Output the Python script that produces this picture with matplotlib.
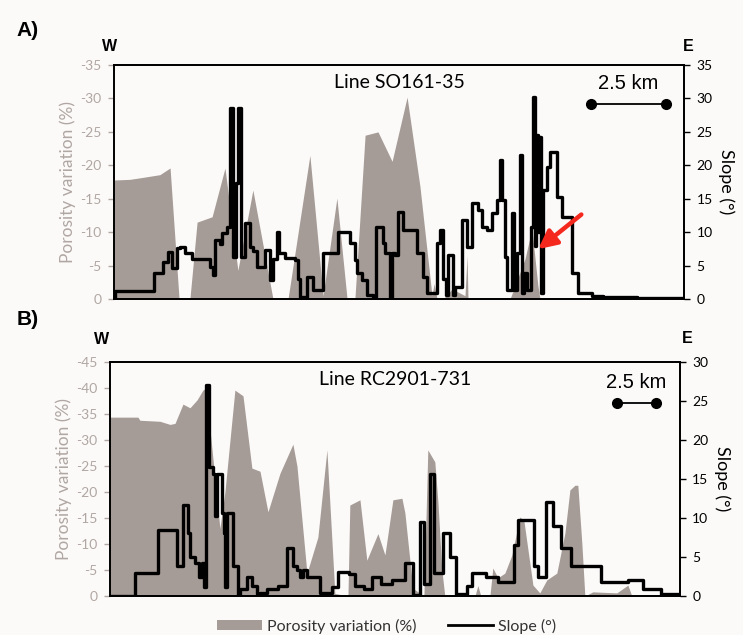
import matplotlib.pyplot as plt
from matplotlib.patches import Patch
from matplotlib.lines import Line2D

plt.rcParams['font.family'] = ['Lato', 'DejaVu Sans']
plt.rcParams['axes.unicode_minus'] = False

# --- Panel A: Line SO161-35 (distance in km) ---
a_por_km = [0, 0.53, 0.97, 1.53, 1.87, 2.17, 2.53, 2.77, 3.27, 3.70, 4.13, 4.63, 5.30, 5.80,
            6.53, 6.97, 7.43, 7.77, 8.03, 8.37, 8.80, 9.27, 9.77, 10.20, 10.60, 10.67, 10.77,
            10.97, 11.27, 11.70, 11.77, 11.80, 13.20, 13.70, 13.93, 14.13, 14.20, 19.0]
a_por = [-17.8, -17.9, -18.2, -18.6, -19.6, 0, 0, -11.5, -12.3, -19.6, -4.3, -16.3, 0, 0,
         -21.5, -0.5, -15.1, 0, 0, -24.5, -25.0, -20.6, -30.2, -16.8, -0.5, -2.3, 0,
         0, -1.5, -0.5, -6.5, 0, 0, -6.0, -10.5, -2.0, 0, 0]

a_slope_km = [0.00, 0.03, 1.33, 1.63, 1.80, 1.93, 2.10, 2.20, 2.37, 2.60, 3.20, 3.30, 3.37, 3.53,
              3.60, 3.77, 3.87, 3.97, 4.07, 4.13, 4.23, 4.37, 4.53, 4.63, 4.77, 5.03, 5.20, 5.30,
              5.43, 5.50, 5.70, 6.03, 6.13, 6.20, 6.43, 6.63, 6.97, 7.47, 7.87, 8.03, 8.10, 8.27,
              8.43, 8.63, 8.73, 8.97, 9.03, 9.20, 9.27, 9.37, 9.47, 9.63, 10.10, 10.30, 10.43,
              10.77, 10.87, 10.97, 11.07, 11.13, 11.30, 11.37, 11.60, 11.77, 11.93, 12.13, 12.27,
              12.43, 12.60, 12.77, 12.87, 12.93, 13.03, 13.10, 13.27, 13.33, 13.43, 13.53, 13.60,
              13.67, 13.77, 13.90, 13.97, 14.03, 14.07, 14.13, 14.17, 14.23, 14.30, 14.43, 14.53,
              14.77, 14.93, 15.27, 15.47, 15.93, 16.30, 17.43, 19.00]
a_slope = [0.0, 1.2, 3.9, 5.5, 7.0, 4.6, 7.6, 7.8, 6.9, 6.0, 4.8, 3.6, 8.8, 8.2,
           9.9, 10.8, 28.5, 6.3, 17.3, 28.5, 6.3, 11.3, 7.8, 7.2, 4.8, 7.3, 2.8, 6.0,
           10.0, 6.9, 6.1, 5.8, 3.0, 0.3, 3.3, 1.3, 6.9, 10.0, 8.4, 5.8, 3.9, 2.9,
           0.6, 0.3, 10.8, 8.4, 6.9, 0.0, 6.9, 6.6, 13.0, 10.3, 6.9, 3.3, 0.9,
           8.4, 10.3, 3.0, 0.6, 6.6, 0.6, 1.8, 11.8, 7.8, 14.3, 13.3, 10.8,
           10.3, 12.8, 14.8, 20.8, 14.8, 6.3, 1.3, 12.8, 1.3, 6.9, 21.5, 0.9,
           3.9, 1.3, 10.8, 30.2, 8.0, 24.5, 10.0, 24.2, 0.9, 16.3, 19.7, 22.0,
           15.2, 12.3, 3.9, 0.9, 0.5, 0.3, 0.2, 0.1]

# --- Panel B: Line RC2901-731 ---
b_por_km = [0, 1.79, 1.92, 3.21, 3.85, 4.17, 4.68, 5.13, 5.58, 5.96, 6.15, 7.05, 7.37, 8.01,
            8.53, 9.10, 9.62, 10.13, 10.90, 11.73, 11.99, 12.63, 13.33, 13.91, 14.42, 15.26,
            15.38, 16.03, 16.47, 17.18, 17.63, 18.14, 18.72, 18.91, 19.42, 20.13, 20.38, 20.83,
            21.03, 21.28, 21.47, 23.40, 23.59, 23.78, 24.36, 24.55, 24.87, 25.32, 25.77, 26.28,
            26.54, 27.12, 27.56, 28.01, 28.65, 29.17, 29.49, 29.81, 30.00, 30.26, 30.45, 30.96,
            32.50, 33.21, 33.46, 36.54]
b_por = [-34.4, -34.4, -33.8, -33.6, -33.0, -33.2, -36.9, -36.2, -37.7, -39.6, -40.0, -13.0, -20.0, -39.6,
         -38.5, -24.6, -24.0, -16.2, -23.6, -29.2, -25.0, -4.4, -11.3, -28.1, -0.5, 0,
         -17.5, -18.5, -6.9, -12.0, -7.9, -18.5, -18.8, -16.0, -1.5, 0, -28.1, -25.8,
         -18.0, -5.0, 0, 0, -2.0, 0, 0, -5.4, -3.5, -4.4, -7.9, -15.2,
         -14.5, -2.1, -0.6, -3.1, -4.4, -12.1, -20.4, -21.3, -21.3, -10.0, 0, -0.8,
         -0.6, -2.1, 0, 0]

b_slope_km = [0, 1.60, 3.08, 4.29, 4.68, 5.00, 5.13, 5.45, 5.71, 5.90, 6.03, 6.15, 6.35, 6.60,
              6.73, 6.86, 7.18, 7.31, 7.37, 7.50, 7.88, 8.21, 8.33, 8.78, 9.10, 9.42, 9.62,
              10.06, 10.77, 11.35, 11.73, 11.99, 12.18, 12.37, 12.63, 13.46, 14.23, 14.62, 15.32,
              15.71, 16.28, 16.79, 17.37, 18.08, 18.91, 19.42, 19.87, 20.13, 20.51, 20.77, 21.35,
              21.79, 22.18, 22.88, 23.21, 24.10, 24.87, 25.90, 26.15, 27.18, 27.44, 27.95, 28.40,
              28.91, 29.55, 31.47, 33.21, 34.17, 35.32, 36.54]
b_slope = [0, 2.9, 8.5, 3.8, 11.7, 8.1, 5.0, 4.2, 2.5, 4.2, 1.2, 27.0, 16.6, 15.7,
           10.2, 15.7, 10.6, 8.1, 1.2, 10.6, 3.8, 0.0, 0.9, 2.4, 1.3, 0.2, 0.4,
           0.9, 1.3, 6.1, 3.8, 3.3, 2.5, 3.3, 2.4, 0.4, 1.1, 3.1, 2.8,
           1.3, 0.9, 2.4, 1.5, 2.1, 4.2, 0.1, 9.5, 1.5, 15.7, 3.0, 8.1,
           5.0, 0.2, 1.3, 2.9, 2.4, 1.8, 6.6, 9.7, 3.9, 2.4, 12.1, 9.0,
           6.1, 3.9, 1.8, 2.1, 0.9, 0.3, 0.3]

bg = '#fcfaf9'
fill_c = '#a69c97'
gray_txt = '#b0a7a3'

fig = plt.figure(figsize=(7.43, 6.35), dpi=100, facecolor=bg)


def panel(rect, por_km, por, slope_km, slope, por_max, slope_max, xmax, title, bar_km, bar_y, txt_y):
    ax = fig.add_axes(rect, facecolor=bg)
    ax.fill_between(por_km, por, 0, color=fill_c, lw=0)
    ax.set_xlim(0, xmax)
    ax.set_ylim(0, por_max)
    ax.set_yticks(range(0, por_max - 1, -5))
    ax.set_xticks([])
    ax.tick_params(axis='y', colors=gray_txt, labelsize=10, length=4, width=1, pad=5)
    ax.set_ylabel('Porosity variation (%)', color=gray_txt, fontsize=12.5, labelpad=3)
    for s in ax.spines.values():
        s.set_color('black')
        s.set_linewidth(1.3)
    ax.spines['left'].set_color('#222222')

    ax2 = ax.twinx()
    ax2.plot(slope_km, slope, color='black', lw=2.4, drawstyle='steps-post')
    ax2.set_ylim(0, slope_max)
    ax2.set_yticks(range(0, slope_max + 1, 5))
    ax2.tick_params(axis='y', colors='black', labelsize=10, length=4, width=1, pad=5)
    ax2.set_ylabel('Slope (°)', fontsize=13, rotation=270, labelpad=16)
    for s in ax2.spines.values():
        s.set_linewidth(1.3)

    ax2.text(0.5, 0.96, title, transform=ax2.transAxes, ha='center', va='top', fontsize=14)
    # scale bar
    ax2.plot(bar_km, [bar_y, bar_y], color='black', lw=1.3, marker='o', ms=7)
    ax2.text(sum(bar_km) / 2, txt_y, '2.5 km', ha='center', va='bottom',
             fontsize=14.5, family='Liberation Sans')
    return ax, ax2


axA, axA2 = panel([0.1534, 0.5291, 0.7672, 0.3685], a_por_km, a_por, a_slope_km, a_slope,
                  -35, 35, 19.0, 'Line SO161-35', [15.9, 18.4], 29.2, 30.8)
axB, axB2 = panel([0.148, 0.0614, 0.767, 0.3685], b_por_km, b_por, b_slope_km, b_slope,
                  -45, 30, 36.54, 'Line RC2901-731', [32.5, 35.0], 24.7, 26.1)

# red arrow in panel A
axA2.annotate('', xy=(14.07, 7.2), xytext=(15.65, 12.9),
              arrowprops=dict(arrowstyle='-|>,head_length=1.1,head_width=0.55',
                              color='#f5281e', lw=3.2))

# panel labels and orientation
fig.text(0.022, 0.952, 'A)', fontsize=15, fontweight='bold', family='Liberation Sans', va='center')
fig.text(0.022, 0.497, 'B)', fontsize=15, fontweight='bold', family='Liberation Sans', va='center')
fig.text(0.148, 0.926, 'W', fontsize=11.5, fontweight='bold', family='Liberation Sans', ha='center', va='center')
fig.text(0.926, 0.926, 'E', fontsize=11.5, fontweight='bold', family='Liberation Sans', ha='center', va='center')
fig.text(0.136, 0.465, 'W', fontsize=11.5, fontweight='bold', family='Liberation Sans', ha='center', va='center')
fig.text(0.925, 0.467, 'E', fontsize=11.5, fontweight='bold', family='Liberation Sans', ha='center', va='center')

handles = [Patch(facecolor=fill_c, edgecolor='none', label='Porosity variation (%)'),
           Line2D([], [], color='black', lw=2, label='Slope (°)')]
fig.legend(handles=handles, loc='center', bbox_to_anchor=(0.52, 0.014), ncol=2, frameon=False,
           fontsize=11.5, handlelength=2.8, handleheight=0.6, columnspacing=2.0, handletextpad=0.3,
           labelcolor='#333333')

fig.savefig('out.png', dpi=100, facecolor=bg)
